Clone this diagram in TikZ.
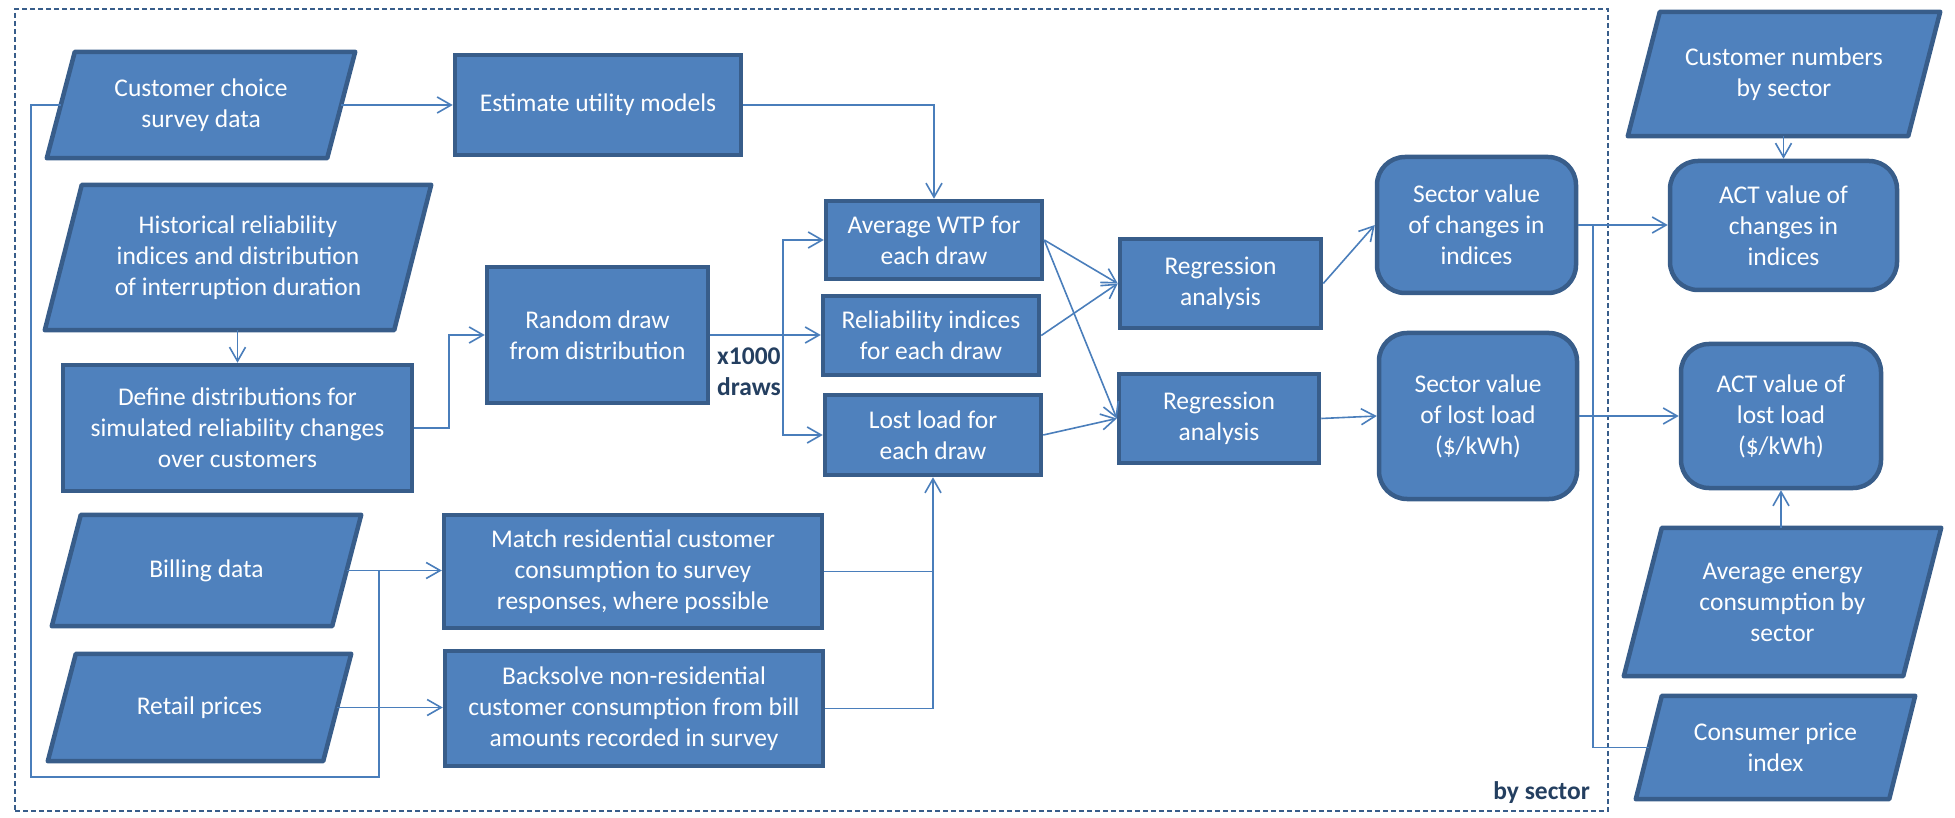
\documentclass[tikz,border=0pt]{standalone}
\usepackage{fontspec}
\setmainfont{Carlito}
\usetikzlibrary{arrows.meta,calc}
\pgfdeclarelayer{bg}
\pgfsetlayers{bg,main}
\definecolor{fillb}{HTML}{4F81BD}
\definecolor{bord}{HTML}{385D8A}
\definecolor{lineb}{HTML}{4A7EBB}
\definecolor{navy}{HTML}{243F60}
\newcommand\boxfont{\fontsize{25.5}{31}\selectfont}
\tikzset{
  box/.style={draw=bord, fill=fillb, line width=4.5pt, text=white, align=center, inner sep=0pt, font=\boxfont},
  rbox/.style={box, rounded corners=28pt},
  ptext/.style={text=white, align=center, inner sep=0pt, font=\boxfont},
  pshape/.style={draw=bord, fill=fillb, line width=4.5pt, line join=round},
  conn/.style={draw=lineb, line width=1.6pt},
  arr/.style={conn, -{Straight Barb[length=14pt,width=16pt]}},
  lbl/.style={text=navy, font=\fontsize{25.5}{31}\selectfont\bfseries, inner sep=0pt},
}
\begin{document}
\begin{tikzpicture}[x=1pt,y=-1pt]
\useasboundingbox (0,0) rectangle (1955,818);
\node[draw=bord, line width=1.5pt, dash pattern=on 5pt off 3pt, minimum width=1593pt, minimum height=802pt, inner sep=0pt] (frame) at (811.5,410) {};
% parallelogram texts
\node[ptext, minimum width=308pt, minimum height=106pt] (cc) at (201,105) {Customer choice\\survey data};
\node[ptext, minimum width=386pt, minimum height=145pt] (hist) at (238,257.5) {Historical reliability\\indices and  distribution\\of interruption duration};
\node[ptext, minimum width=309pt, minimum height=111pt] (bill) at (206.5,570.5) {Billing data};
\node[ptext, minimum width=303pt, minimum height=107pt] (retail) at (199.5,707.5) {Retail prices};
\node[ptext, minimum width=312pt, minimum height=124pt] (custnum) at (1784,74) {Customer numbers\\by sector};
\node[ptext, minimum width=317pt, minimum height=148pt] (avgen) at (1782.5,602) {Average energy\\consumption by\\sector};
\node[ptext, minimum width=279pt, minimum height=103pt] (cpi) at (1775.5,747.5) {Consumer price\\index};
\begin{pgfonlayer}{bg}
\foreach \n/\s in {cc/28,hist/37,bill/29,retail/28,custnum/32,avgen/38,cpi/26}{
  \draw[pshape] ($(\n.north west)+(\s,0)$) -- (\n.north east) -- ($(\n.south east)-(\s,0)$) -- (\n.south west) -- cycle;
}
\end{pgfonlayer}
% rectangles
\node[box, minimum width=286pt, minimum height=100pt] (est) at (598,105) {Estimate utility models};
\node[box, minimum width=221pt, minimum height=136pt] (rand) at (597.5,335) {Random draw\\from distribution};
\node[box, minimum width=349pt, minimum height=126pt] (define) at (237.5,428) {Define  distributions for\\simulated reliability changes\\over customers};
\node[box, minimum width=216pt, minimum height=78pt] (avgwtp) at (934,240) {Average WTP for\\each draw};
\node[box, minimum width=216pt, minimum height=79pt] (rel) at (931,335.5) {Reliability indices\\for each draw};
\node[box, minimum width=216pt, minimum height=80pt] (lost) at (933,435) {Lost load for\\each draw};
\node[box, minimum width=201pt, minimum height=89pt] (reg1) at (1220.5,283.5) {Regression\\analysis};
\node[box, minimum width=200pt, minimum height=89pt] (reg2) at (1219,418.5) {Regression\\analysis};
\node[box, minimum width=378pt, minimum height=113pt] (match) at (633,571.5) {Match  residential customer\\consumption to survey\\responses, where possible};
\node[box, minimum width=378pt, minimum height=115pt] (back) at (634,708.5) {Backsolve non-residential\\customer consumption from bill\\amounts recorded in survey};
\node[rbox, minimum width=199pt, minimum height=136pt] (sec1) at (1476.5,225) {Sector value\\of changes in\\indices};
\node[rbox, minimum width=198pt, minimum height=166pt] (sec2) at (1478,416) {Sector value\\of lost load\\(\$/kWh)};
\node[rbox, minimum width=227pt, minimum height=129pt] (act1) at (1783.5,225.5) {ACT value of\\changes in\\indices};
\node[rbox, minimum width=200pt, minimum height=144pt] (act2) at (1781,416) {ACT value of\\lost load\\(\$/kWh)};
% labels
\node[lbl, anchor=west, align=left] (x1000) at (717,372) {x1000\\draws};
\node[lbl, anchor=east] (bysec) at (1590,793) {by sector};
% edge points of parallelograms
\coordinate (ccE) at ($(cc.east)+(-14,0)$);
\coordinate (ccW) at ($(cc.west)+(14,0)$);
\coordinate (billE) at ($(bill.east)+(-14.5,0)$);
\coordinate (retailE) at ($(retail.east)+(-14,0)$);
\coordinate (cpiW) at ($(cpi.west)+(13,0)$);
\coordinate (jb) at ($(billE)+(32.5,0)$);
\coordinate (loopbot) at (31,777);
\coordinate (split) at ($(rand.east)+(73,0)$);
\coordinate (jc) at ($(sec1.east)+(15,0)$);
% connectors
\draw[arr] (ccE) -- (est.west |- ccE);
\draw[arr] (est.east) -| (avgwtp.north);
\draw[arr] (define.north |- hist.south) -- (define.north);
\draw[arr] (define.east) -- ++(35,0) |- (rand.west);
\draw[arr] (rand.east) -- (rand.east -| rel.west);
\draw[arr] (split) |- (avgwtp.west);
\draw[arr] (split) |- (lost.west);
\draw[arr] (avgwtp.east) -- (reg1.west);
\draw[arr] (avgwtp.east) -- (reg2.west);
\draw[arr] (rel.east) -- (reg1.west);
\draw[arr] (lost.east) -- (reg2.west);
\draw[arr] (reg1.east) -- (sec1.west);
\draw[arr] (reg2.east) -- (sec2.west);
\draw[arr] (sec1.east) -- (sec1.east -| act1.west);
\draw[arr] (sec2.east) -- (sec2.east -| act2.west);
\draw[arr] (act1.north |- custnum.south) -- (act1.north);
\draw[arr] (act2.south |- avgen.north) -- (act2.south);
\draw[conn] (cpiW) -| (jc);
\draw[arr] (billE) -- (match.west |- billE);
\draw[arr] (retailE) -- (back.west |- retailE);
\draw[conn] (jb) |- (loopbot) |- (ccW);
\draw[arr] (back.east) -| (lost.south);
\draw[conn] (match.east) -- (match.east -| lost.south);
\end{tikzpicture}
\end{document}
